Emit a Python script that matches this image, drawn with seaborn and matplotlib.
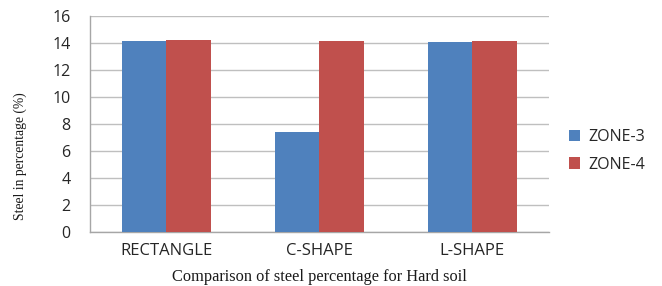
import matplotlib
matplotlib.use("Agg")
import matplotlib.pyplot as plt
import seaborn as sns
import pandas as pd
from matplotlib.ticker import FixedLocator

shapes = ["RECTANGLE", "C-SHAPE", "L-SHAPE"]
zones = ["ZONE-3", "ZONE-4"]
zone3 = [14.18, 7.4, 14.07]
zone4 = [14.22, 14.15, 14.13]

df = pd.DataFrame({
    "shape": shapes * 2,
    "zone": [zones[0]] * 3 + [zones[1]] * 3,
    "steel": zone3 + zone4,
})

sns.set_style("white")
plt.rcParams["font.family"] = ["Open Sans", "DejaVu Sans"]

fig = plt.figure(figsize=(6.62, 2.86), dpi=100)
ax = fig.add_axes([0.136, 0.189, 0.693, 0.755])

sns.barplot(data=df, x="shape", y="steel", hue="zone",
            palette=["#4F81BD", "#C0504D"], width=0.58, saturation=1,
            edgecolor="none", linewidth=0, ax=ax, zorder=3)

ax.set_ylim(0, 16)
ax.set_yticks(range(0, 17, 2))
ax.set_xlim(-0.5, 2.5)
ax.yaxis.grid(True, color="#BFBFBF", linewidth=1, zorder=0)
ax.set_axisbelow(True)

for s in ["top", "right"]:
    ax.spines[s].set_visible(False)
for s in ["left", "bottom"]:
    ax.spines[s].set_color("#A6A6A6")
    ax.spines[s].set_linewidth(1)

ax.tick_params(axis="x", which="major", length=0, labelsize=12, pad=8, labelcolor="#262626")
ax.xaxis.set_minor_locator(FixedLocator([-0.5, 0.5, 1.5, 2.5]))
ax.tick_params(axis="x", which="minor", length=5, color="#A6A6A6", direction="out")
ax.tick_params(axis="y", length=12, color="#BFBFBF", direction="out", labelsize=11.5, pad=2, labelcolor="#262626")

ax.set_xlabel("Comparison of steel percentage for Hard soil",
              family="Liberation Serif", fontsize=11.8, labelpad=7, color="#1a1a1a")
ax.set_ylabel("Steel in percentage (%)", family="Liberation Serif",
              fontsize=9.8, color="#1a1a1a")
ax.yaxis.set_label_coords(-0.138, 0.35)

leg = ax.legend(loc="center left", bbox_to_anchor=(1.03, 0.375), frameon=False,
                fontsize=11.5, handlelength=0.7, handleheight=0.7,
                handletextpad=0.5, labelspacing=0.7, borderaxespad=0)
for t in leg.get_texts():
    t.set_color("#262626")

fig.savefig("out.png", dpi=100)
